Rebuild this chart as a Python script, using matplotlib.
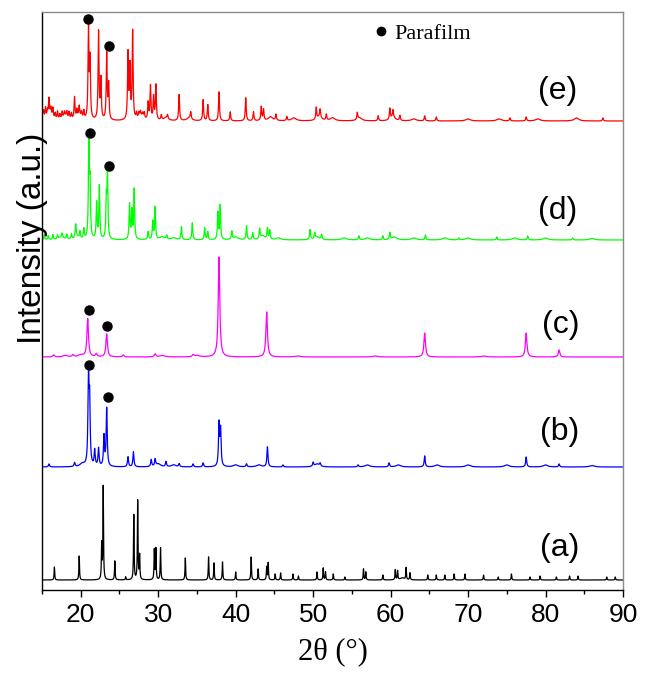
import numpy as np
import matplotlib
matplotlib.use("Agg")
import matplotlib.pyplot as plt
from matplotlib.lines import Line2D
from matplotlib.ticker import MultipleLocator

# ---------------- data ----------------
x_min, x_max = 15, 90
xticks = [20, 30, 40, 50, 60, 70, 80, 90]
sample_labels = ["(a)", "(b)", "(c)", "(d)", "(e)"]
colors = ["#000000", "#0000FF", "#FF00FF", "#00FF00", "#FF0000"]
offsets = [10, 123, 233, 350, 469]
peak_widths = [0.09, 0.16, 0.24, 0.14, 0.14]
bump_width = 0.7

a_pos = [16.6, 19.8, 22.7, 22.9, 24.4, 25.8, 26.85, 27.35, 27.6, 29.5, 29.7, 30.3,
         33.5, 36.5, 37.2, 38.3, 40.0, 42.0, 42.9, 44.0, 44.2, 45.1, 45.8, 47.4, 48.1,
         50.5, 51.3, 51.6, 52.6, 54.1, 56.5, 56.8, 59.0, 60.6, 60.9, 62.0, 62.5, 64.8,
         65.9, 67.0, 68.2, 69.6, 72.0, 73.9, 75.6, 78.0, 79.3, 81.4, 83.1, 84.2, 87.9, 89.0]
a_hgt = [13, 24, 35, 93, 19, 3, 65, 79, 24, 30, 31, 32,
         22, 23, 17, 18, 8, 23, 11, 13, 17, 6, 7, 6, 4,
         8, 12, 8, 6, 3, 11, 8, 5, 10, 9, 12, 7, 5,
         5, 5, 6, 6, 5, 3, 6, 3, 4, 3, 4, 4, 3, 3]
a_bump_pos = [61.5]
a_bump_hgt = [2]

b_pos = [15.9, 19.2, 21.0, 21.15, 21.8, 22.3, 23.0, 23.35, 26.1, 26.8, 29.1, 29.6,
         31.0, 32.7, 34.5, 35.8, 37.85, 38.05, 41.4, 44.1, 46.1, 50.0, 50.9, 55.8,
         59.8, 64.4, 77.5, 81.75]
b_hgt = [3, 4, 90, 60, 16, 18, 30, 58, 10, 15, 7, 7,
         5, 3, 3, 4, 42, 36, 3, 20, 2, 4, 3, 2,
         4, 11, 10, 3]
b_bump_pos = [20.2, 30.0, 32.0, 40.0, 43.0, 50.5, 57.0, 61.0, 66.0, 70.0, 75.0, 80.0, 86.0]
b_bump_hgt = [3, 3, 2, 2, 2, 3, 2, 2, 2, 2, 2, 2, 1.5]

c_pos = [16.5, 19.0, 20.9, 22.0, 23.35, 25.5, 29.6, 34.5, 37.85, 44.0, 64.4, 77.5, 81.75]
c_hgt = [2, 2, 38, 3, 23, 2, 3, 2, 100, 45, 24, 24, 7]
c_bump_pos = [18.0, 20.0, 30.5, 35.0, 48.0, 58.0, 72.0]
c_bump_hgt = [1.5, 2, 1.5, 1.5, 1, 1, 1]

d_pos = [15.3, 15.8, 16.4, 17.0, 17.6, 18.2, 18.8, 19.35, 19.9, 20.4, 21.05, 21.2, 22.05,
         22.4, 23.3, 23.45, 26.3, 26.6, 26.9, 28.7, 29.3, 29.6, 31.1, 33.0, 34.4,
         36.0, 36.4, 37.7, 38.0, 39.5, 41.4, 42.2, 43.1, 44.1, 44.4, 49.6, 50.2,
         51.1, 55.9, 59.0, 59.9, 64.5, 68.8, 73.7, 77.7, 83.5]
d_hgt = [5, 4, 5, 4, 4, 5, 5, 13, 7, 10, 97, 50, 36,
         53, 38, 64, 35, 28, 50, 8, 18, 32, 4, 13, 17,
         12, 8, 27, 34, 8, 14, 7, 10, 11, 9, 10, 6,
         5, 4, 4, 7, 5, 2, 3, 4, 2]
d_bump_pos = [17.5, 19.5, 30.5, 32.0, 40.0, 43.5, 45.5, 50.5, 54.0, 57.0, 60.5, 63.0,
              67.0, 70.0, 76.0, 80.0, 86.0]
d_bump_hgt = [3, 3, 3, 2, 3, 4, 2, 3, 2, 2, 3, 2, 2, 2, 2, 2, 1.5]

e_pos = [15.0, 15.2, 15.45, 15.7, 15.9, 16.15, 16.4, 16.7, 17.0, 17.3, 17.6, 17.9,
         18.2, 18.5, 18.8, 19.2, 19.5, 19.8, 20.1, 20.4, 21.0, 21.2, 22.3, 22.6,
         23.35, 23.6, 26.1, 26.35, 26.7, 27.2, 27.5, 27.7, 28.0, 28.2, 28.7, 29.0, 29.4, 29.7,
         30.4, 31.2, 32.7, 34.2, 35.8, 36.4, 37.85, 39.3, 41.3, 42.3, 43.3, 43.6,
         45.2, 46.6, 50.4, 50.9, 51.7, 55.7, 58.4, 59.9, 60.3, 61.2, 64.4, 65.9,
         75.4, 77.5, 87.4]
e_hgt = [12, 8, 11, 7, 17, 8, 10, 6, 8, 5, 7, 5,
         6, 7, 6, 22, 8, 10, 6, 8, 91, 58, 88, 40,
         66, 35, 66, 52, 88, 6, 5, 5, 4, 6, 17, 34, 23, 35,
         5, 4, 26, 7, 21, 16, 29, 9, 23, 9, 14, 11,
         6, 4, 12, 8, 6, 7, 5, 11, 7, 5, 5, 4,
         3, 4, 3]
e_bump_pos = [16.0, 18.0, 19.8, 27.8, 31.0, 34.0, 44.5, 47.5, 50.8, 52.5, 56.0, 60.3,
              63.0, 70.0, 74.0, 79.0, 84.0]
e_bump_hgt = [5, 4, 4, 4, 3, 3, 4, 3, 4, 3, 3, 4, 2, 2, 2, 2, 3]

patterns = [(a_pos, a_hgt), (b_pos, b_hgt), (c_pos, c_hgt), (d_pos, d_hgt), (e_pos, e_hgt)]
bumps = [(a_bump_pos, a_bump_hgt), (b_bump_pos, b_bump_hgt), (c_bump_pos, c_bump_hgt),
         (d_bump_pos, d_bump_hgt), (e_bump_pos, e_bump_hgt)]

# Parafilm markers: (2theta, height) for samples b..e
marker_x = [21.05, 23.55, 21.1, 23.45, 21.15, 23.65, 21.0, 23.6]
marker_y = [225, 193, 280, 264, 457, 424, 571, 544]

label_x = [81.8, 81.8, 81.9, 81.6, 81.5]
label_y = [42, 158, 265, 379, 499]

# ---------------- figure ----------------
fig = plt.figure(figsize=(6.46, 6.81), dpi=100)
ax = fig.add_axes([42 / 646, 1 - 590 / 681, 581 / 646, 578 / 681])

grid = np.arange(x_min, x_max + 0.005, 0.01)


def profile(positions, heights, width):
    out = np.zeros_like(grid)
    for p, h in zip(positions, heights):
        out += h / (1 + ((grid - p) / (width / 2)) ** 2)
    return out


for (pos, hgt), (bpos, bhgt), off, col, w in zip(patterns, bumps, offsets, colors, peak_widths):
    y = profile(pos, hgt, w) + profile(bpos, bhgt, bump_width)
    ax.plot(grid, y + off, color=col, lw=0.9)

ax.plot(marker_x, marker_y, "o", color="black", ms=6.5, ls="none")

for lx, ly, t in zip(label_x, label_y, sample_labels):
    ax.text(lx, ly, t, fontsize=23, family="Liberation Sans", ha="center", va="center")

ax.set_xlim(x_min, x_max)
ax.set_ylim(0, 578)
ax.set_xticks(xticks)
ax.xaxis.set_minor_locator(MultipleLocator(5))
ax.set_yticks([])
ax.tick_params(axis="x", which="major", direction="out", length=5, width=1,
               labelsize=19, pad=4)
ax.tick_params(axis="x", which="minor", direction="out", length=3, width=1)
for lab in ax.get_xticklabels():
    lab.set_family("Liberation Sans")

for s in ["left", "bottom"]:
    ax.spines[s].set_color("black")
    ax.spines[s].set_linewidth(1)
for s in ["top", "right"]:
    ax.spines[s].set_color("#8a8a8a")
    ax.spines[s].set_linewidth(1)

ax.set_xlabel("2θ (°)", fontsize=22, family="Liberation Serif", labelpad=8)
fig.text(33 / 646, 1 - 238 / 681, "Intensity (a.u.)", rotation=90, fontsize=24,
         family="Liberation Sans", ha="center", va="center")

handle = Line2D([], [], marker="o", color="black", ls="none", ms=6)
ax.legend([handle], ["Parafilm"], loc="center left",
          bbox_to_anchor=((374 - 42) / 581, (590 - 34) / 578),
          frameon=False, handlelength=0.6, handletextpad=0.3, borderpad=0,
          borderaxespad=0, prop={"family": "Liberation Serif", "size": 16})

fig.savefig("out.png", dpi=100)
